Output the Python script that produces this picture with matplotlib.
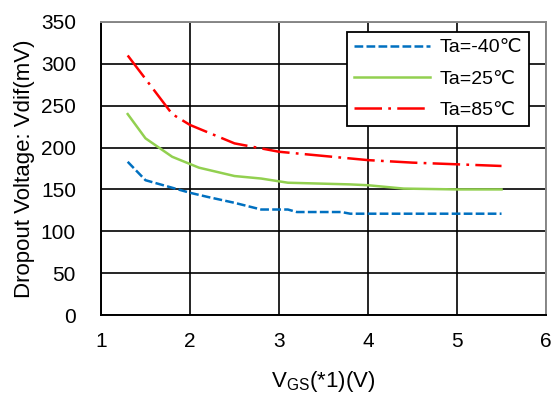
import matplotlib.pyplot as plt

plt.rcParams['font.family'] = ['Liberation Sans', 'DejaVu Sans']

# data
x_m40 = [1.3, 1.5, 1.8, 2.0, 2.2, 2.5, 2.8, 3.1, 3.2, 3.7, 3.8, 4.0, 4.5, 5.0, 5.5]
v_m40 = [183, 161, 152, 146, 141, 134, 126, 126, 123, 123, 121, 121, 121, 121, 121]

x_25 = [1.3, 1.5, 1.8, 2.1, 2.5, 2.8, 3.1, 3.8, 4.0, 4.4, 5.0, 5.5]
v_25 = [240, 211, 189, 176, 166, 163, 158, 156, 155, 151, 150, 150]

x_85 = [1.3, 1.8, 2.0, 2.5, 3.0, 3.5, 4.0, 4.5, 5.0, 5.5]
v_85 = [310, 240, 227, 205, 195, 190, 185, 182, 180, 178]

labels = ['Ta=-40\u2103', 'Ta=25\u2103', 'Ta=85\u2103']

fig = plt.figure(figsize=(5.54, 3.94), dpi=100)
ax = fig.add_axes([0.1823, 0.2005, 0.8033, 0.7437])

ax.plot(x_m40, v_m40, color='#0070C0', lw=1.8, dashes=(3.5, 1.3), label=labels[0])
ax.plot(x_25, v_25, color='#92D050', lw=1.8, label=labels[1])
ax.plot(x_85, v_85, color='#FF0000', lw=1.8, dashes=(11, 2.5, 1.1, 2.5), label=labels[2])

ax.set_xlim(1, 6)
ax.set_ylim(0, 350)
ax.set_xticks(range(1, 7))
ax.set_yticks(range(0, 351, 50))
ax.grid(True, color='black', lw=1.2)
ax.tick_params(length=0, labelsize=15)
ax.tick_params(axis='x', pad=12)
ax.tick_params(axis='y', pad=18)
for s in ax.spines.values():
    s.set_color('black')
    s.set_linewidth(1.4)
ax.spines['top'].set_color('#888888')
ax.spines['right'].set_color('#888888')

ax.set_xlabel('V$_{\\mathregular{GS}}$(*1)(V)', fontsize=16, labelpad=13)
ax.set_ylabel('Dropout Voltage: Vdif(mV)', fontsize=16, labelpad=4)

leg = ax.legend(loc='upper right', bbox_to_anchor=(0.9618, 0.9659), fontsize=14,
                fancybox=False, framealpha=1, edgecolor='black', borderaxespad=0,
                handlelength=3.9, handletextpad=0.5, labelspacing=0.7, borderpad=0.35)
leg.get_frame().set_linewidth(1.3)

fig.savefig('out.png', dpi=100)
